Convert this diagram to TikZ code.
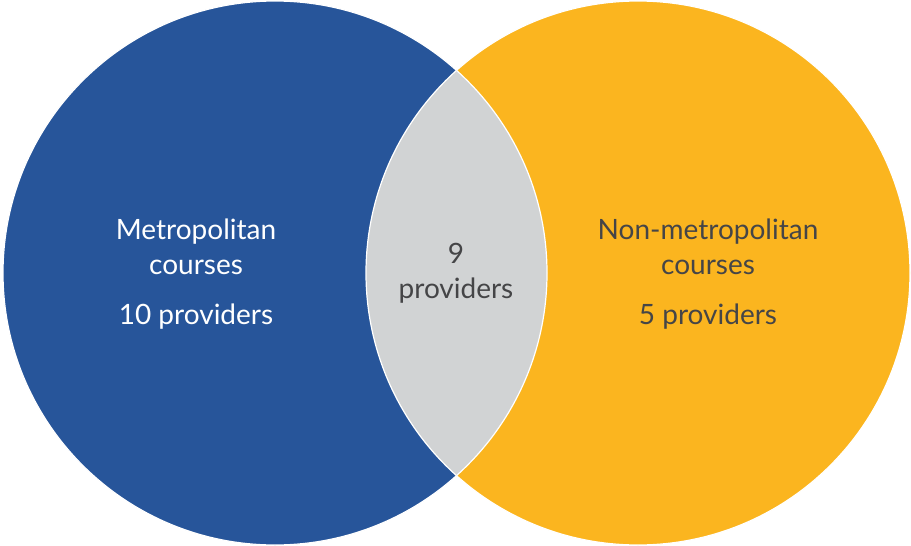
\documentclass[tikz,border=0pt]{standalone}
\usepackage{fontspec}
\setmainfont{Lato}
\definecolor{vblue}{HTML}{27559A}
\definecolor{vyellow}{HTML}{FBB51F}
\definecolor{vgray}{HTML}{D1D3D4}
\definecolor{vtext}{HTML}{454547}
\begin{document}
\begin{tikzpicture}[x=1pt,y=-1pt,
  lbl/.style={anchor=base,inner sep=0pt,font=\fontsize{28}{32}\selectfont},
  wlbl/.style={lbl,text=white},
  dlbl/.style={lbl,text=vtext}]
\useasboundingbox (0,0) rectangle (911,546);
\fill[vblue] (275,273) circle (272);
\fill[vyellow] (638,273) circle (272);
\begin{scope}
  \clip (275,273) circle (272);
  \fill[vgray] (638,273) circle (272);
\end{scope}
\draw[white,line width=1.2pt] (275,273) circle (272);
\draw[white,line width=1.2pt] (638,273) circle (272);
\node[wlbl] (m1) at (196,239) {Metropolitan};
\node[wlbl] (m2) at (196,274) {courses};
\node[wlbl] (m3) at (196,324) {10 providers};
\node[dlbl] (c1) at (456,263) {9};
\node[dlbl] (c2) at (456,298) {providers};
\node[dlbl] (n1) at (708,239) {Non-metropolitan};
\node[dlbl] (n2) at (708,274) {courses};
\node[dlbl] (n3) at (708,324) {5 providers};
\end{tikzpicture}
\end{document}
